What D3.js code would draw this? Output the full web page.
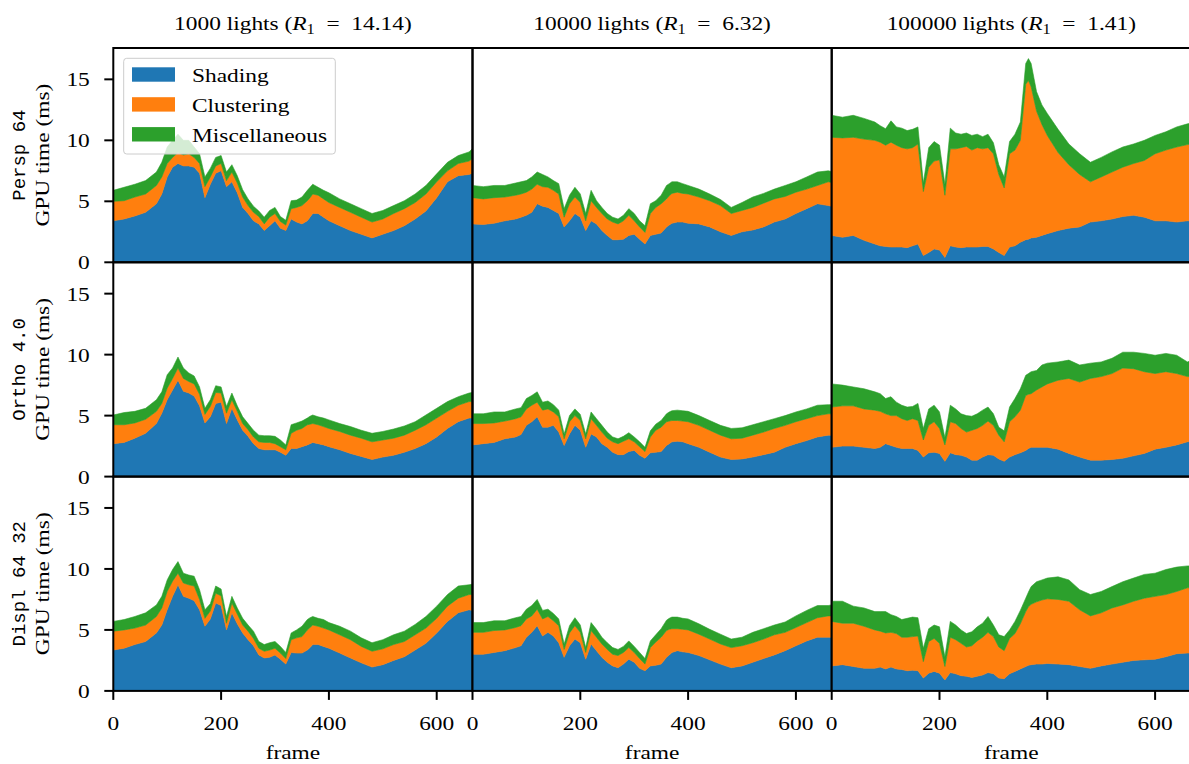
<!DOCTYPE html>
<html>
<head>
<meta charset="utf-8">
<script src="https://cdn.jsdelivr.net/npm/d3@7"></script>
<style>
  html, body { margin: 0; padding: 0; background: #ffffff; }
  svg { display: block; }
  text { white-space: pre; }
  .serif { font-family: "Liberation Serif", "DejaVu Serif", serif; }
  .mono { font-family: "Liberation Mono", "DejaVu Sans Mono", monospace; }
</style>
</head>
<body>
<svg id="chart" width="1189" height="764"></svg>
<script>
// Frame numbers at which the GPU timings are sampled
const frames = [0,20,40,60,80,90,100,110,120,130,140,150,160,170,180,190,200,210,220,230,240,250,260,270,280,290,300,310,320,330,340,350,360,365,370,380,390,400,420,440,460,480,500,520,540,560,580,600,620,640,660,666];

const lightCounts = ["1000", "10000", "100000"];
const lightRadii = ["14.14", "6.32", "1.41"];
const configNames = ["Persp 64", "Ortho 4.0", "Displ 64 32"];
const seriesNames = ["Shading", "Clustering", "Miscellaneous"];
const seriesColors = ["#1f77b4", "#ff7f0e", "#2ca02c"];
const yTickValues = [0, 5, 10, 15];
const xTickValues = [0, 200, 400, 600];

// Persp 64
const persp1kShading = [3.4,3.55,3.8,4.1,4.8,5.6,7.0,7.8,8.1,7.9,7.9,7.8,7.3,5.3,6.4,7.3,7.5,6.2,6.6,5.7,4.5,4.0,3.4,3.15,2.6,3.0,3.4,2.8,2.6,3.55,3.3,3.15,3.4,3.7,4.0,4.0,3.7,3.4,3.0,2.6,2.3,2.0,2.3,2.6,3.0,3.55,4.2,5.3,6.6,7.1,7.2,7.3];
const persp1kClustering = [1.6,1.5,1.55,1.5,1.5,1.4,1.1,0.8,0.9,0.9,1.0,0.8,0.8,0.9,0.6,0.6,0.6,0.5,0.8,0.8,0.85,0.65,0.7,0.6,0.55,0.7,0.6,0.55,0.45,0.85,1.2,1.5,1.65,1.6,1.6,1.5,1.5,1.5,1.5,1.5,1.4,1.3,1.25,1.4,1.4,1.35,1.4,1.3,0.9,1.0,1.1,1.2];
const persp1kMisc = [0.9,1.1,1.05,1.1,1.1,1.2,1.35,1.4,1.5,1.2,1.1,0.85,0.8,0.8,0.7,0.7,0.65,0.7,0.6,0.6,0.6,0.55,0.5,0.45,0.55,0.55,0.5,0.4,0.4,0.65,0.6,0.7,0.85,0.85,0.8,0.65,0.7,0.8,0.7,0.7,0.7,0.7,0.7,0.65,0.65,0.7,0.7,0.65,0.7,0.65,0.75,0.8];

const persp10kShading = [3.15,3.1,3.2,3.4,3.55,3.7,3.85,4.1,4.8,4.6,4.5,4.25,4.0,2.9,3.4,4.0,3.7,2.6,3.4,3.15,2.6,2.2,1.85,1.85,1.9,2.2,2.3,1.9,1.5,2.2,2.3,2.4,2.9,3.05,3.2,3.3,3.3,3.2,3.15,2.9,2.5,2.2,2.5,2.65,2.9,3.3,3.55,4.0,4.4,4.8,4.65,4.6];
const persp10kClustering = [2.15,2.1,2.1,1.95,1.95,1.9,1.9,1.9,1.6,1.6,1.65,1.65,1.6,0.8,1.4,1.35,1.2,0.8,1.65,1.35,1.4,1.35,1.45,1.3,1.5,1.65,1.1,1.0,0.95,1.8,2.2,2.4,2.3,2.4,2.45,2.45,2.35,2.4,2.2,2.15,2.15,1.8,1.75,1.85,1.95,1.9,1.85,1.75,1.6,1.5,1.95,1.95];
const persp10kMisc = [1.0,1.0,1.0,0.95,1.0,1.0,0.95,1.0,1.0,1.0,0.85,0.8,0.85,0.7,0.7,0.8,0.7,0.6,0.85,0.55,0.5,0.45,0.4,0.4,0.45,0.55,0.6,0.5,0.55,0.8,0.55,0.7,1.1,1.0,0.95,0.85,0.8,0.7,0.65,0.55,0.5,0.5,0.65,0.85,0.8,0.8,0.9,0.85,1.0,1.1,0.9,0.9];

const persp100kShading = [2.2,2.05,2.2,1.8,1.5,1.35,1.3,1.25,1.25,1.25,1.2,1.35,1.5,0.55,0.8,1.1,1.0,0.4,1.35,1.25,1.2,1.25,1.25,1.25,1.3,1.3,1.1,0.8,0.55,1.25,1.35,1.65,1.85,1.9,2.0,2.05,2.2,2.35,2.6,2.8,2.9,3.3,3.4,3.55,3.75,3.85,3.7,3.4,3.4,3.3,3.4,3.4];
const persp100kClustering = [8.05,8.15,8.05,8.3,8.5,8.5,8.3,8.6,8.35,8.15,8.1,8.05,8.2,5.25,7.0,7.2,7.4,5.1,7.95,8.05,8.2,8.25,7.95,8.15,8.0,8.1,7.8,6.4,5.55,7.65,7.85,8.35,12.75,13.0,12.4,10.35,9.1,8.05,6.4,5.2,4.3,3.3,3.6,3.85,4.05,4.25,4.65,5.5,5.8,6.15,6.25,6.3];
const persp100kMisc = [1.8,1.7,1.8,1.7,1.5,1.35,1.35,1.75,1.5,1.6,1.5,1.5,1.4,0.7,1.6,1.6,1.2,0.9,1.7,1.3,1.1,1.1,1.2,1.1,1.0,1.1,0.9,0.8,0.9,1.0,1.3,1.5,1.7,1.8,1.9,1.6,1.6,1.8,1.9,1.7,1.7,1.6,1.6,1.65,1.65,1.6,1.65,1.5,1.5,1.65,1.7,1.7];

// Ortho 4.0
const ortho1kShading = [2.7,2.8,3.15,3.55,4.35,5.2,6.3,7.1,7.9,7.0,6.85,6.6,5.8,4.4,4.9,6.0,6.1,4.35,5.6,4.65,3.8,3.3,2.7,2.3,2.2,2.2,2.2,2.0,1.75,2.3,2.3,2.45,2.6,2.7,2.8,2.7,2.6,2.45,2.2,1.9,1.65,1.4,1.6,1.75,2.0,2.3,2.7,3.25,3.95,4.5,4.8,4.8];
const ortho1kClustering = [1.55,1.45,1.25,1.15,1.0,0.8,0.95,0.95,1.0,1.05,0.95,1.0,0.95,0.7,0.85,0.9,0.75,0.85,0.7,0.7,0.55,0.55,0.55,0.55,0.6,0.6,0.5,0.45,0.45,1.25,1.5,1.5,1.65,1.6,1.55,1.55,1.5,1.5,1.5,1.5,1.5,1.45,1.4,1.4,1.4,1.5,1.55,1.55,1.4,1.35,1.35,1.35];
const ortho1kMisc = [0.8,1.0,0.95,0.9,0.95,0.95,1.1,0.85,0.9,0.85,0.7,0.65,0.6,0.5,0.55,0.55,0.5,0.55,0.55,0.45,0.55,0.5,0.55,0.55,0.55,0.55,0.6,0.55,0.4,0.7,0.6,0.6,0.55,0.65,0.7,0.65,0.7,0.7,0.65,0.7,0.65,0.7,0.7,0.75,0.75,0.7,0.8,0.8,0.8,0.7,0.7,0.75];

const ortho10kShading = [2.6,2.7,2.8,3.1,3.25,3.45,4.2,4.5,4.9,4.05,4.05,4.2,3.65,2.55,3.5,4.2,3.8,2.4,3.5,3.25,2.7,2.4,2.0,1.8,1.8,2.05,2.15,1.75,1.5,1.95,2.0,2.05,2.55,2.7,2.85,2.9,2.85,2.7,2.4,2.0,1.6,1.4,1.45,1.6,1.8,2.0,2.4,2.7,2.95,3.25,3.4,3.4];
const ortho10kClustering = [1.75,1.65,1.6,1.45,1.5,1.45,1.35,1.35,1.2,1.4,1.5,1.1,1.25,0.55,1.0,0.8,0.8,0.7,1.25,0.95,0.95,0.75,0.85,0.9,1.1,1.05,0.7,0.7,0.55,1.3,1.8,2.0,1.95,1.85,1.75,1.7,1.7,1.8,1.8,1.8,1.8,1.7,1.7,1.8,1.85,1.95,1.8,1.8,1.8,1.75,1.75,1.75];
const ortho10kMisc = [0.8,0.8,0.9,0.75,0.8,0.75,0.85,0.8,0.85,0.65,0.65,0.6,0.55,0.4,0.5,0.55,0.5,0.4,0.55,0.55,0.55,0.5,0.4,0.4,0.4,0.5,0.4,0.4,0.35,0.5,0.5,0.55,0.65,0.75,0.8,0.85,0.85,0.85,0.8,0.8,0.8,0.85,0.85,0.85,0.85,0.8,0.8,0.8,0.8,0.85,0.75,0.75];

const ortho100kShading = [2.4,2.5,2.5,2.4,2.3,2.4,2.7,2.55,2.4,2.3,2.3,2.3,2.15,1.6,1.95,2.0,1.9,1.25,1.95,1.8,1.75,1.6,1.35,1.35,1.6,1.8,1.75,1.45,1.25,1.6,1.8,1.95,2.15,2.3,2.4,2.4,2.4,2.4,2.25,1.9,1.6,1.35,1.35,1.4,1.5,1.7,1.9,2.25,2.4,2.6,2.85,2.9];
const ortho100kClustering = [3.3,3.3,3.3,3.15,3.15,2.95,2.45,2.45,2.6,2.45,2.3,2.45,2.45,1.4,2.25,2.5,2.05,1.35,2.55,2.55,2.2,2.05,2.45,2.6,2.6,2.75,2.45,1.95,1.6,2.9,3.1,3.5,4.5,4.45,4.4,4.7,4.95,5.2,5.65,6.15,6.15,6.7,6.85,7.05,7.4,7.15,6.7,6.2,6.2,5.85,5.35,5.3];
const ortho100kMisc = [1.9,1.7,1.55,1.65,1.5,1.45,1.25,1.55,1.1,1.1,1.1,1.0,1.4,0.95,1.35,1.35,1.35,0.6,1.35,1.2,1.2,1.35,1.15,1.2,1.25,1.15,0.95,0.65,0.9,1.2,1.5,1.75,1.65,1.7,1.8,1.6,1.8,1.7,1.5,1.5,1.4,1.25,1.2,1.25,1.3,1.35,1.5,1.5,1.5,1.5,1.2,1.3];

// Displ 64 32
const displ1kShading = [3.35,3.5,3.8,4.05,4.75,5.4,6.65,7.75,8.7,7.75,7.6,7.4,6.65,5.3,5.9,7.2,7.0,5.0,6.4,5.5,4.75,4.2,3.7,2.95,2.7,2.75,2.95,2.6,2.2,3.15,3.1,3.1,3.35,3.55,3.8,3.8,3.65,3.5,3.1,2.7,2.3,1.95,2.15,2.5,2.8,3.35,3.9,4.75,5.7,6.4,6.65,6.6];
const displ1kClustering = [1.55,1.5,1.35,1.35,1.35,1.4,1.5,1.25,0.95,1.1,1.1,1.2,0.85,0.65,0.65,0.8,0.8,0.55,0.8,0.8,0.65,0.7,0.6,0.55,0.55,0.6,0.55,0.5,0.45,1.05,1.25,1.35,1.65,1.65,1.6,1.5,1.5,1.5,1.5,1.5,1.35,1.3,1.3,1.3,1.25,1.25,1.25,1.2,1.25,1.2,1.25,1.3];
const displ1kMisc = [0.8,0.85,0.95,1.0,0.95,0.95,0.95,0.95,0.95,0.8,0.8,0.8,0.8,0.7,0.6,0.6,0.55,0.55,0.55,0.5,0.55,0.5,0.6,0.55,0.55,0.6,0.55,0.55,0.5,0.55,0.65,0.85,0.85,0.8,0.7,0.65,0.7,0.6,0.7,0.7,0.7,0.7,0.75,0.8,0.85,0.85,0.95,1.0,0.95,1.0,0.8,0.85];

const displ10kShading = [3.0,3.0,3.15,3.3,3.55,3.7,4.4,4.8,5.35,4.5,4.8,4.5,3.95,2.75,3.7,4.25,3.95,2.6,3.85,3.3,2.75,2.35,2.05,1.9,2.2,2.6,2.35,1.85,1.65,2.05,2.1,2.2,2.75,2.95,3.15,3.3,3.2,3.15,2.9,2.55,2.2,1.9,2.05,2.35,2.65,2.95,3.3,3.7,4.1,4.4,4.4,4.4];
const displ10kClustering = [1.8,1.8,1.8,1.7,1.65,1.65,1.5,1.35,1.35,1.4,1.3,1.25,1.4,0.65,1.05,1.1,0.85,0.55,1.1,1.1,1.1,1.05,0.95,1.0,0.95,0.95,0.8,0.8,0.55,1.5,1.9,2.2,2.2,2.1,1.95,1.8,1.85,1.85,1.75,1.7,1.65,1.65,1.65,1.6,1.6,1.65,1.5,1.5,1.5,1.6,1.75,1.75];
const displ10kMisc = [0.8,0.8,0.8,0.75,0.8,0.75,0.8,0.85,0.8,0.7,0.6,0.6,0.55,0.45,0.6,0.65,0.6,0.4,0.65,0.65,0.55,0.55,0.55,0.5,0.5,0.55,0.5,0.5,0.45,0.55,0.6,0.7,0.85,0.9,0.95,0.95,0.9,0.9,0.85,0.8,0.8,0.7,0.7,0.85,0.85,0.8,0.85,0.95,1.0,1.0,0.85,0.9];

const displ100kShading = [2.05,2.15,2.0,1.85,1.85,1.95,1.8,1.95,1.8,1.75,1.65,1.7,1.65,1.05,1.45,1.6,1.45,0.9,1.5,1.4,1.25,1.2,1.1,1.2,1.3,1.5,1.4,1.05,1.0,1.4,1.6,1.8,2.0,2.1,2.15,2.2,2.2,2.25,2.2,2.15,2.0,1.85,2.05,2.2,2.35,2.5,2.55,2.6,2.8,3.05,3.1,3.1];
const displ100kClustering = [3.65,3.4,3.55,3.45,3.15,2.95,2.95,2.85,2.9,2.65,2.75,2.75,2.85,1.35,2.6,2.7,2.45,1.1,2.9,2.8,2.65,2.4,2.6,2.9,3.1,3.3,3.05,2.55,2.3,2.9,3.1,3.7,4.5,4.8,4.95,5.1,5.25,5.3,5.3,5.2,4.65,4.3,4.35,4.6,4.7,4.85,5.05,5.15,5.1,5.1,5.35,5.35];
const displ100kMisc = [1.65,1.8,1.4,1.5,1.5,1.6,1.75,1.45,1.4,1.45,1.55,1.6,1.5,1.1,1.05,1.1,1.35,0.8,1.3,1.2,1.1,1.1,1.15,1.15,1.15,1.3,0.95,1.0,1.15,0.7,1.0,1.1,1.1,1.2,1.45,1.65,1.65,1.7,1.85,1.75,1.65,1.75,1.75,1.75,1.9,1.9,1.95,1.9,2.05,2.0,1.8,1.8];

// Grid of panels: rows = camera configuration, columns = light count
const panelSeries = [
  [[persp1kShading, persp1kClustering, persp1kMisc],
   [persp10kShading, persp10kClustering, persp10kMisc],
   [persp100kShading, persp100kClustering, persp100kMisc]],
  [[ortho1kShading, ortho1kClustering, ortho1kMisc],
   [ortho10kShading, ortho10kClustering, ortho10kMisc],
   [ortho100kShading, ortho100kClustering, ortho100kMisc]],
  [[displ1kShading, displ1kClustering, displ1kMisc],
   [displ10kShading, displ10kClustering, displ10kMisc],
   [displ100kShading, displ100kClustering, displ100kMisc]]
];

// ---- layout ----
const svg = d3.select("#chart");
const gridLeft = 113.3, gridTop = 48, panelW = 359.2, panelH = 214.3;
const xMax = 666.4, yMax = 17.57;
const fontSize = 19.5;
const stretch = 1.2;   // widen glyphs along the text direction
const tickLen = 9;

const defs = svg.append("defs");
const stacker = d3.stack().keys([0, 1, 2]).value((d, k) => d.v[k]);

function addText(parent, x, y, str, anchor, opts = {}) {
  const rot = opts.rotate ? " rotate(-90)" : "";
  const sx = opts.noStretch ? 1 : stretch;
  return parent.append("text")
    .attr("class", opts.mono ? "mono" : "serif")
    .attr("transform", `translate(${x},${y})${rot} scale(${sx},1)`)
    .attr("text-anchor", anchor)
    .attr("font-size", opts.size || fontSize)
    .attr("fill", "#000")
    .text(str);
}

panelSeries.forEach((row, r) => {
  row.forEach((series, c) => {
    const px = gridLeft + c * panelW;
    const py = gridTop + r * panelH;
    const x = d3.scaleLinear().domain([0, xMax]).range([px, px + panelW]);
    const y = d3.scaleLinear().domain([0, yMax]).range([py + panelH, py]);

    const clipId = `clip-${r}-${c}`;
    defs.append("clipPath").attr("id", clipId)
      .append("rect").attr("x", px).attr("y", py).attr("width", panelW).attr("height", panelH);

    const rows = frames.map((f, i) => ({ f, v: series.map(s => s[i]) }));
    const layers = stacker(rows);
    const area = d3.area()
      .x(d => x(d.data.f))
      .y0(d => y(d[0]))
      .y1(d => y(d[1]));

    const g = svg.append("g").attr("clip-path", `url(#${clipId})`);
    g.selectAll("path").data(layers).join("path")
      .attr("d", area)
      .attr("fill", (d, i) => seriesColors[i])
      .attr("stroke", (d, i) => seriesColors[i])
      .attr("stroke-width", 0.6);

    // left axis on the first column only
    if (c === 0) {
      const ya = svg.append("g");
      yTickValues.forEach(v => {
        ya.append("line")
          .attr("x1", px - tickLen).attr("x2", px)
          .attr("y1", y(v)).attr("y2", y(v))
          .attr("stroke", "#000").attr("stroke-width", 2);
        addText(ya, px - 23.5, y(v) + 7, String(v), "end");
      });
      const cy = py + panelH / 2;
      addText(svg, 25, cy, configNames[r], "middle", { rotate: true, mono: true, size: 19, noStretch: true });
      addText(svg, 48.5, cy, "GPU time (ms)", "middle", { rotate: true });
    }

    // bottom axis on the last row only
    if (r === panelSeries.length - 1) {
      const xa = svg.append("g");
      xTickValues.forEach(v => {
        xa.append("line")
          .attr("x1", x(v)).attr("x2", x(v))
          .attr("y1", py + panelH).attr("y2", py + panelH + tickLen)
          .attr("stroke", "#000").attr("stroke-width", 2);
        addText(xa, x(v), 730, String(v), "middle");
      });
      addText(svg, px + panelW / 2, 759, "frame", "middle");
    }

    // column titles
    if (r === 0) {
      const t = svg.append("text")
        .attr("class", "serif")
        .attr("transform", `translate(${px + panelW / 2},29.5) scale(${stretch},1)`)
        .attr("text-anchor", "middle")
        .attr("font-size", fontSize)
        .attr("fill", "#000");
      t.append("tspan").text(`${lightCounts[c]} lights (`);
      t.append("tspan").attr("font-style", "italic").text("R");
      t.append("tspan").attr("font-size", fontSize * 0.7).attr("dy", 4).text("1");
      t.append("tspan").attr("dy", -4).text(`  =  ${lightRadii[c]})`);
    }

    // frame
    svg.append("rect")
      .attr("x", px).attr("y", py).attr("width", panelW).attr("height", panelH)
      .attr("fill", "none").attr("stroke", "#000").attr("stroke-width", 2);
  });
});

// legend in the top-left panel
const legend = svg.append("g");
legend.append("rect")
  .attr("x", 123.7).attr("y", 58.3).attr("width", 211.6).attr("height", 95.7)
  .attr("rx", 3).attr("ry", 3)
  .attr("fill", "#ffffff").attr("fill-opacity", 0.8)
  .attr("stroke", "#cccccc").attr("stroke-width", 1);
seriesNames.forEach((name, i) => {
  const cy = 74.5 + i * 29.9;
  legend.append("rect")
    .attr("x", 132).attr("y", cy - 7.2).attr("width", 43).attr("height", 14.4)
    .attr("fill", seriesColors[i]);
  addText(legend, 192, cy + 7.2, name, "start");
});
</script>
</body>
</html>
